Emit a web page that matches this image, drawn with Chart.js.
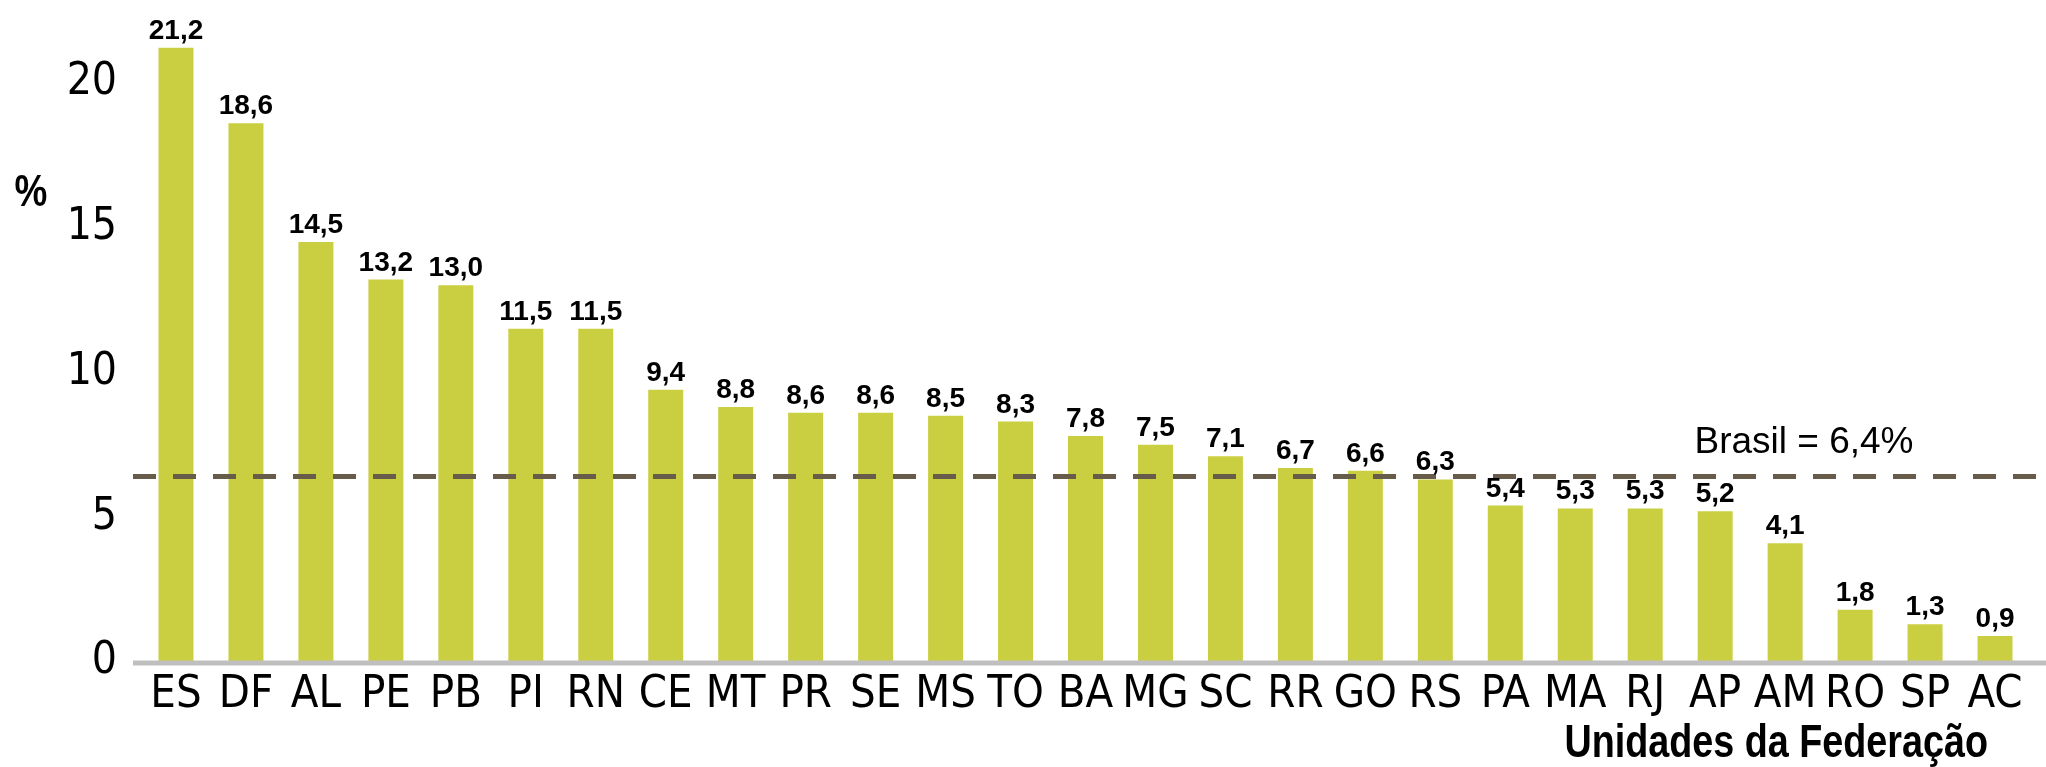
<!DOCTYPE html>
<html>
<head>
<meta charset="utf-8">
<script src="https://cdn.jsdelivr.net/npm/chart.js@4"></script>
<style>
  html, body { margin: 0; padding: 0; background: #fff; }
  #wrap { width: 2046px; height: 767px; position: relative; }
</style>
</head>
<body>
<div id="wrap"><canvas id="chart"></canvas></div>
<script>
const categories = ["ES", "DF", "AL", "PE", "PB", "PI", "RN", "CE", "MT", "PR", "SE", "MS", "TO", "BA",
  "MG", "SC", "RR", "GO", "RS", "PA", "MA", "RJ", "AP", "AM", "RO", "SP", "AC"];
const values = [21.2, 18.6, 14.5, 13.2, 13.0, 11.5, 11.5, 9.4, 8.8, 8.6, 8.6, 8.5, 8.3, 7.8,
  7.5, 7.1, 6.7, 6.6, 6.3, 5.4, 5.3, 5.3, 5.2, 4.1, 1.8, 1.3, 0.9];
const yTicks = [0, 5, 10, 15, 20];
const brasilValue = 6.4;
const brasilLabel = "Brasil = 6,4%";
const xTitle = "Unidades da Federação";
const yTitle = "%";

const CONDENSED = "'DejaVu Sans Condensed', 'Liberation Sans Narrow', sans-serif";
const SANS = "'Liberation Sans', Arial, sans-serif";

const fmt = v => v.toFixed(1).replace(".", ",");

// no Arial Narrow here, so squeeze Liberation Sans horizontally
function narrowText(ctx, text, x, y, font, align) {
  ctx.save();
  ctx.font = font;
  ctx.textAlign = align;
  ctx.textBaseline = "middle";
  ctx.translate(x, y);
  ctx.scale(0.82, 1);
  ctx.fillText(text, 0, 0);
  ctx.restore();
}

// zero the auto padding so the plot area sits where the reference has it
function noPad(scale) {
  scale.paddingTop = 0;
  scale.paddingBottom = 0;
  scale.paddingLeft = 0;
  scale.paddingRight = 0;
}

// extra drawing: baseline, Brasil reference line, value labels, titles
const extras = {
  id: "extras",
  afterDatasetsDraw(chart) {
    const ctx = chart.ctx;
    const area = chart.chartArea;
    const y = chart.scales.y;
    ctx.save();

    // x axis baseline
    const y0 = y.getPixelForValue(0);
    ctx.strokeStyle = "#bfbfbf";
    ctx.lineWidth = 5;
    ctx.beginPath();
    ctx.moveTo(area.left - 8, y0 + 1);
    ctx.lineTo(chart.width, y0 + 1);
    ctx.stroke();

    // Brasil reference line
    const yb = y.getPixelForValue(brasilValue);
    ctx.strokeStyle = "#675c4a";
    ctx.lineWidth = 5;
    ctx.setLineDash([23, 17]);
    ctx.beginPath();
    ctx.moveTo(area.left - 8, yb);
    ctx.lineTo(chart.width, yb);
    ctx.stroke();
    ctx.setLineDash([]);

    // value labels
    ctx.fillStyle = "#000";
    ctx.font = "bold 28px " + SANS;
    ctx.textAlign = "center";
    ctx.textBaseline = "alphabetic";
    chart.getDatasetMeta(0).data.forEach((bar, i) => {
      ctx.fillText(fmt(values[i]), bar.x, bar.y - 9);
    });

    // Brasil label
    ctx.font = "37px " + SANS;
    ctx.textBaseline = "middle";
    ctx.fillText(brasilLabel, 1804, yb - 34);
    ctx.restore();

    narrowText(ctx, yTitle, 31, 194, "bold 45px " + SANS, "center");
    narrowText(ctx, xTitle, 1988, 744, "bold 46px " + SANS, "right");
  }
};

new Chart(document.getElementById("chart").getContext("2d"), {
  type: "bar",
  data: {
    labels: categories,
    datasets: [{
      data: values,
      backgroundColor: "#cacf41",
      barPercentage: 0.5,
      categoryPercentage: 1.0
    }]
  },
  options: {
    responsive: true,
    maintainAspectRatio: false,
    animation: false,
    layout: { padding: { left: 0, right: 16, top: 0, bottom: 0 } },
    plugins: {
      legend: { display: false },
      tooltip: { enabled: false }
    },
    scales: {
      x: {
        grid: { display: false, drawTicks: false, tickLength: 0 },
        border: { display: false },
        ticks: {
          color: "#000",
          font: { family: CONDENSED, size: 45 },
          padding: 6,
          maxRotation: 0,
          autoSkip: false
        },
        afterFit(scale) {
          scale.height = 105;
          noPad(scale);
        }
      },
      y: {
        min: 0,
        max: 22.85,
        grid: { display: false, drawTicks: false, tickLength: 0 },
        border: { display: false },
        ticks: {
          color: "#000",
          font: { family: CONDENSED, size: 44 },
          padding: 24,
          stepSize: 5
        },
        afterBuildTicks(scale) {
          scale.ticks = yTicks.map(v => ({ value: v }));
        },
        afterFit(scale) {
          scale.width = 141;
          noPad(scale);
        }
      }
    }
  },
  plugins: [extras]
});
</script>
</body>
</html>
